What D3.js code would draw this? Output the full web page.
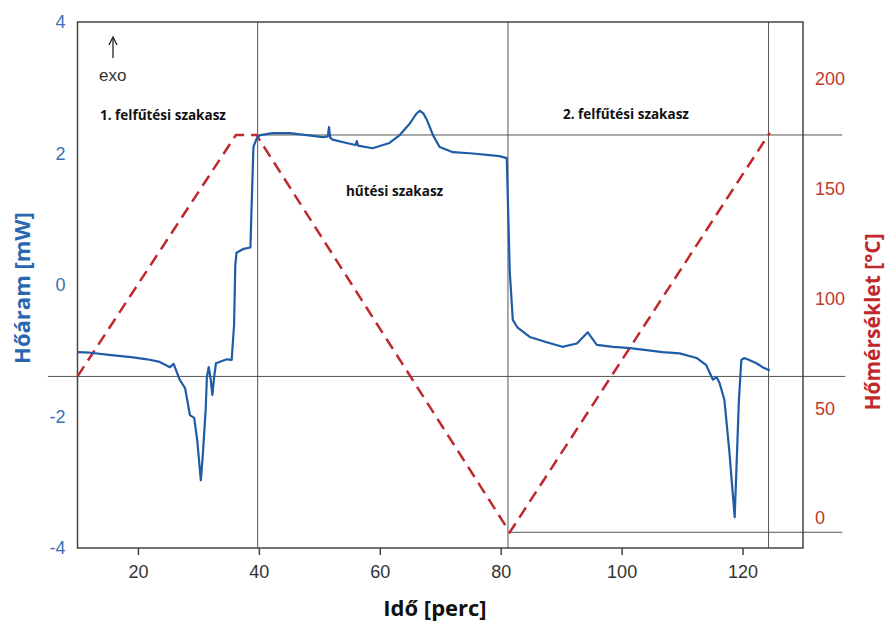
<!doctype html>
<html>
  <head>
    <script src="https://cdn.jsdelivr.net/npm/d3@7"></script>
    <style>
      body { margin: 0; background: #fff; }
      text { font-family: "Liberation Sans", Arial, sans-serif; }
      .lbl { font-family: "Open Sans", "Liberation Sans", sans-serif; font-weight: bold; }
    </style>
  </head>
  <body>
    <div id="chart"></div>
    <script>
      // heat flow curve (time in min, heat flow in mW)
      var flowTime = [10, 12.1, 16, 19.2, 21.5, 23.6, 25.3, 25.9, 26.9, 27.8, 28.6, 29.3, 29.8, 30.4, 30.7, 31.2, 31.4, 31.7, 32.0, 32.3, 32.6, 32.9, 34.7, 35.5, 35.9, 36.1, 36.3, 37.5, 38.6, 38.8, 39.1, 39.6,
        40.2, 42.3, 45.1, 47.9, 50.6, 51.4, 51.6, 51.8, 52.2, 54.5, 56.0, 56.2, 56.4, 58.8, 61.6, 63.3, 65.0, 66.0, 66.6, 67.2, 67.8, 68.8, 69.9, 72.1, 75.4, 79.8, 81.0,
        81.5, 82.0, 82.8, 84.8, 87.6, 90.2, 92.6, 94.4, 95.9, 98.6, 101.4, 104.1, 106.8, 109.6, 112.4, 114.0, 115.1, 115.7, 116.2, 117.0, 117.8, 118.7, 119.0, 119.4, 119.8, 120.3, 121.1, 122.3, 123.3, 124.5];
      var flowValue = [-1.02, -1.03, -1.07, -1.10, -1.13, -1.17, -1.25, -1.20, -1.44, -1.57, -1.98, -2.02, -2.36, -2.97, -2.62, -1.90, -1.40, -1.25, -1.41, -1.67, -1.40, -1.19, -1.13, -1.14, -0.60, 0.30, 0.49, 0.55, 0.57, 1.20, 2.10, 2.22,
        2.28, 2.31, 2.31, 2.28, 2.25, 2.26, 2.40, 2.24, 2.21, 2.16, 2.13, 2.19, 2.12, 2.08, 2.16, 2.28, 2.46, 2.60, 2.65, 2.61, 2.51, 2.28, 2.10, 2.02, 2.00, 1.96, 1.93,
        0.20, -0.53, -0.65, -0.79, -0.87, -0.94, -0.89, -0.72, -0.91, -0.94, -0.96, -0.99, -1.02, -1.04, -1.11, -1.22, -1.44, -1.40, -1.49, -1.75, -2.51, -3.53, -2.77, -1.75, -1.14, -1.11, -1.14, -1.19, -1.25, -1.30];

      // temperature programme (time in min, temperature in °C)
      var tempTime = [10, 36.2, 39.6, 81.5, 124.5];
      var tempValue = [64.5, 174.5, 174.5, -6.5, 175.5];

      // guide lines
      var guideTimes = [39.8, 81.2, 124.3];
      var guideTemps = [{t0: 39.6, t1: 136.5, v: 174.5}, {t0: 5.1, t1: 137, v: 64.5}, {t0: 81.5, t1: 136.5, v: -6.5}];

      var xTicks = [20, 40, 60, 80, 100, 120];
      var yLeftTicks = [-4, -2, 0, 2, 4];
      var yRightTicks = [0, 50, 100, 150, 200];

      var W = 887, H = 623;
      var svg = d3.select("#chart").append("svg")
        .attr("width", W).attr("height", H);

      var x = d3.scaleLinear().domain([10, 130]).range([77.5, 803]);
      var yL = d3.scaleLinear().domain([-4, 4]).range([548, 22]);
      var yR = d3.scaleLinear().domain([0, 200]).range([518, 79]);

      // guide lines
      svg.selectAll(".vguide").data(guideTimes).enter().append("line")
        .attr("x1", d => x(d)).attr("x2", d => x(d))
        .attr("y1", 22).attr("y2", 548)
        .attr("stroke", "#555").attr("stroke-width", 1);
      svg.selectAll(".hguide").data(guideTemps).enter().append("line")
        .attr("x1", d => x(d.t0)).attr("x2", d => x(d.t1))
        .attr("y1", d => yR(d.v)).attr("y2", d => yR(d.v))
        .attr("stroke", "#555").attr("stroke-width", 1);

      // frame
      svg.append("rect")
        .attr("x", 77.5).attr("y", 22).attr("width", 803 - 77.5).attr("height", 548 - 22)
        .attr("fill", "none").attr("stroke", "#444").attr("stroke-width", 1.5);

      // x axis
      var xAxis = d3.axisBottom(x).tickValues(xTicks).tickSize(7).tickPadding(10);
      var gx = svg.append("g").attr("transform", "translate(0,548)").call(xAxis);
      gx.select(".domain").remove();
      gx.selectAll("line").attr("stroke", "#444").attr("stroke-width", 1.5);
      gx.selectAll("text").attr("font-size", 18).attr("fill", "#333")
        .attr("font-family", "Liberation Sans, Arial, sans-serif");

      // left axis
      var yAxisL = d3.axisLeft(yL).tickValues(yLeftTicks).tickFormat(d => String(d)).tickSize(0).tickPadding(12);
      var gl = svg.append("g").attr("transform", "translate(77.5,0)").call(yAxisL);
      gl.select(".domain").remove();
      gl.selectAll("text").attr("font-size", 18).attr("fill", "#3a70b5")
        .attr("font-family", "Liberation Sans, Arial, sans-serif");

      // right axis
      var yAxisR = d3.axisRight(yR).tickValues(yRightTicks).tickSize(0).tickPadding(12);
      var gr = svg.append("g").attr("transform", "translate(803,0)").call(yAxisR);
      gr.select(".domain").remove();
      gr.selectAll("text").attr("font-size", 18).attr("fill", "#c0392b")
        .attr("font-family", "Liberation Sans, Arial, sans-serif");

      // temperature dashed line
      var tempData = tempTime.map((t, i) => ({t: t, v: tempValue[i]}));
      svg.append("path").datum(tempData)
        .attr("d", d3.line().x(d => x(d.t)).y(d => yR(d.v)))
        .attr("fill", "none").attr("stroke", "#c0282d")
        .attr("stroke-width", 2.5).attr("stroke-dasharray", "12,7");

      // heat flow curve
      var flowData = flowTime.map((t, i) => ({t: t, v: flowValue[i]}));
      svg.append("path").datum(flowData)
        .attr("d", d3.line().x(d => x(d.t)).y(d => yL(d.v)))
        .attr("fill", "none").attr("stroke", "#1f5ca8")
        .attr("stroke-width", 2.2).attr("stroke-linejoin", "round");

      // exo arrow
      svg.append("line").attr("x1", 113).attr("x2", 113).attr("y1", 58).attr("y2", 38)
        .attr("stroke", "#222").attr("stroke-width", 1.3);
      svg.append("path").attr("d", "M109,45 L113,37 L117,45")
        .attr("fill", "none").attr("stroke", "#222").attr("stroke-width", 1.3);
      svg.append("text").attr("x", 99).attr("y", 81).attr("font-size", 17).attr("fill", "#333").text("exo");

      // phase labels
      svg.append("text").attr("class", "lbl").attr("x", 100).attr("y", 120).attr("font-size", 13.5).attr("fill", "#111").text("1. felfűtési szakasz");
      svg.append("text").attr("class", "lbl").attr("x", 346).attr("y", 196).attr("font-size", 13.5).attr("fill", "#111").text("hűtési szakasz");
      svg.append("text").attr("class", "lbl").attr("x", 563).attr("y", 119).attr("font-size", 13.5).attr("fill", "#111").text("2. felfűtési szakasz");

      // axis titles
      svg.append("text").attr("class", "lbl").attr("transform", "translate(30,288) rotate(-90)")
        .attr("text-anchor", "middle").attr("font-size", 22).attr("fill", "#2a67b0").text("Hőáram [mW]");
      svg.append("text").attr("class", "lbl").attr("transform", "translate(880,322) rotate(-90)")
        .attr("text-anchor", "middle").attr("font-size", 21).attr("fill", "#c0282d").text("Hőmérséklet [°C]");
      svg.append("text").attr("class", "lbl").attr("x", 435).attr("y", 616)
        .attr("text-anchor", "middle").attr("font-size", 22).attr("fill", "#111").text("Idő [perc]");
    </script>
  </body>
</html>
